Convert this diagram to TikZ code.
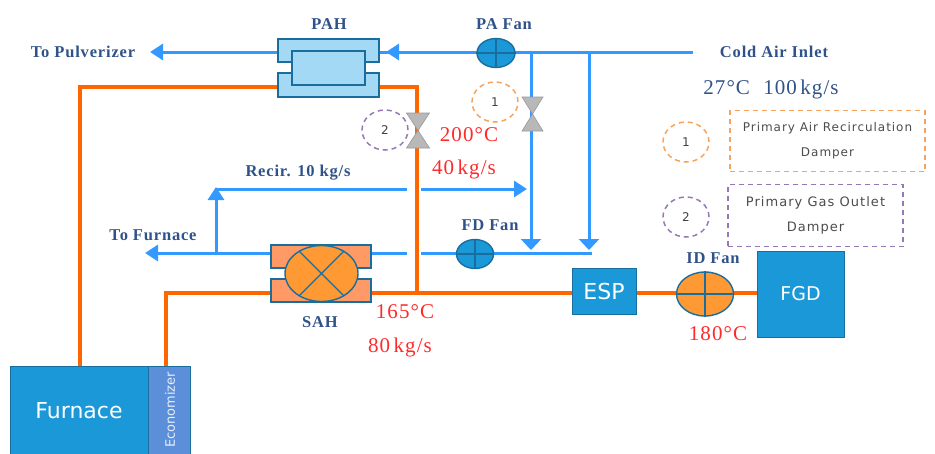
\documentclass[tikz,border=0pt]{standalone}
\usepackage{fontspec}
\setmainfont{Liberation Serif}
\newfontfamily\plainsans{DejaVu Sans}
\newfontfamily\notesans[LetterSpace=8]{DejaVu Sans}
\newfontfamily\tagserif[LetterSpace=5]{Liberation Serif}
\usetikzlibrary{arrows.meta}
\usetikzlibrary{shapes.geometric}
\definecolor{airblue}{HTML}{3399FF}
\definecolor{gasorange}{HTML}{FF6600}
\definecolor{unitblue}{HTML}{1B98D8}
\definecolor{edgeblue}{HTML}{1A6E9E}
\definecolor{ecoblue}{HTML}{5B8FD9}
\definecolor{pahfill}{HTML}{A3D9F5}
\definecolor{sahfill}{HTML}{FF9966}
\definecolor{fanorange}{HTML}{FF9933}
\definecolor{valvegray}{HTML}{B8B8B8}
\definecolor{hotred}{HTML}{FF2A2A}
\definecolor{labelnavy}{HTML}{2F5288}
\definecolor{noteorange}{HTML}{F5A45E}
\definecolor{notepurple}{HTML}{9678B6}
\tikzset{
	air/.style={draw=airblue, line width=3pt},
	airtip/.style={air, -{Triangle[length=13pt, width=16pt]}},
	droptip/.style={air, -{Triangle[length=11pt, width=20pt]}},
	gas/.style={draw=gasorange, line width=3.4pt, line join=miter},
	unitbox/.style={draw=edgeblue, line width=1pt, fill=unitblue, text=white, inner sep=0pt, font=\plainsans},
	hxbox/.style={draw=edgeblue, line width=1.4pt, inner sep=0pt},
	fan/.style={ellipse, draw=edgeblue, line width=1.4pt, inner sep=0pt},
	tag/.style={text=labelnavy, font=\tagserif\bfseries\fontsize{16.5}{19}\selectfont},
	hot/.style={text=hotred, font=\tagserif\fontsize{21}{23}\selectfont},
	note/.style={text=black!70, font=\notesans\fontsize{13}{25}\selectfont, align=center},
	notedash/.style={dash pattern=on 5pt off 4pt, line width=1.5pt},
	notenum/.style={notedash, inner sep=0pt, text=black!75, font=\plainsans\fontsize{12}{14}\selectfont},
	valvepart/.style={draw=black!40, fill=valvegray, line width=.6pt}
}
\begin{document}
\begin{tikzpicture}[x=1pt, y=-1pt]
	\useasboundingbox (0,0) rectangle (935,453);
	% units
	\node[unitbox, minimum width=138pt, minimum height=90pt, font=\plainsans\fontsize{22}{24}\selectfont] (furnace) at (79,411) {Furnace};
	\node[unitbox, fill=ecoblue, minimum width=42pt, minimum height=90pt] (eco) at (169,411) {};
	\node[text=white!85!ecoblue, rotate=90, font=\plainsans\fontsize{13}{15}\selectfont] (ecolabel) at (170,410) {Economizer};
	\node[unitbox, minimum width=64pt, minimum height=46pt, font=\plainsans\fontsize{22}{24}\selectfont] (esp) at (604,291) {ESP};
	\node[unitbox, minimum width=87pt, minimum height=86pt, font=\plainsans\fontsize{19}{21}\selectfont] (fgd) at (800.5,294) {FGD};
	% free ends and bends
	\coordinate (inlet) at (693,52);
	\coordinate (pahA) at (278,52);
	\coordinate (pahB) at (379,52);
	\coordinate (tipPah) at (386,52);
	\coordinate (tipPulv) at (150,52);
	\coordinate (gasPahL) at (278,87);
	\coordinate (gasPahR) at (379,87);
	\coordinate (bendA) at (80,87);
	\coordinate (bendB) at (417,87);
	\coordinate (teeGas) at (417,293);
	\coordinate (bendC) at (166,293);
	\coordinate (joinA) at (531,52);
	\coordinate (joinB) at (589,52);
	\coordinate (tipA) at (531,250);
	\coordinate (tipB) at (589,250);
	\coordinate (endFd) at (592,253);
	\coordinate (gapR) at (421,253);
	\coordinate (gapL) at (407,253);
	\coordinate (sahR) at (371,253);
	\coordinate (sahL) at (271,253);
	\coordinate (tipFurn) at (145,253);
	\coordinate (recirBase) at (216,253);
	\coordinate (recirUp) at (216,189);
	\coordinate (recirGapL) at (407,189);
	\coordinate (recirGapR) at (421,189);
	\coordinate (tipRecir) at (527,189);
	\coordinate (sahGasL) at (271,293);
	\coordinate (sahGasR) at (371,293);
	% gas side
	\draw[gas] (eco.north -| bendC) -- (bendC) -- (sahGasL);
	\draw[gas] (sahGasR) -- (esp.west |- sahGasR);
	\draw[gas] (furnace.north -| bendA) -- (bendA) -- (gasPahL);
	\draw[gas] (gasPahR) -- (bendB) -- (teeGas);
	\draw[gas] (esp.east |- sahGasR) -- (fgd.west |- sahGasR);
	% air side
	\draw[air] (inlet) -- (pahB);
	\draw[airtip] (pahB -| joinA) -- (tipPah);
	\draw[airtip] (pahA) -- (tipPulv);
	\draw[droptip] (joinA) -- (tipA);
	\draw[droptip] (joinB) -- (tipB);
	\draw[air] (endFd) -- (gapR);
	\draw[air] (gapL) -- (sahR);
	\draw[airtip] (sahL) -- (tipFurn);
	\draw[airtip] (recirBase) -- (216,187);
	\draw[air] (recirUp) ++(-1.5,0) -- (recirGapL);
	\draw[airtip] (recirGapR) -- (tipRecir);
	% heaters
	\node[hxbox, fill=pahfill, minimum width=101pt, minimum height=23pt] (pahtop) at (328.5,50.5) {};
	\node[hxbox, fill=pahfill, minimum width=101pt, minimum height=24pt] (pahbot) at (328.5,85) {};
	\node[hxbox, fill=pahfill, minimum width=73pt, minimum height=34pt] (pahcore) at (328.5,68) {};
	\node[hxbox, fill=sahfill, minimum width=100pt, minimum height=23pt] (sahtop) at (321,256.5) {};
	\node[hxbox, fill=sahfill, minimum width=100pt, minimum height=23pt] (sahbot) at (321,290.5) {};
	\node[fan, fill=fanorange, minimum width=73pt, minimum height=56pt] (sah) at (321.5,273.5) {};
	\draw[edgeblue, line width=1.4pt] (sah.45) -- (sah.225);
	\draw[edgeblue, line width=1.4pt] (sah.135) -- (sah.315);
	% fans
	\foreach \name/\cx/\cy/\wd/\ht/\col in {pafan/496/53/38/29/unitblue, fdfan/475/254/37/29/unitblue, idfan/705/294/57/44/fanorange} {
		\node[fan, fill=\col, minimum width=\wd pt, minimum height=\ht pt] (\name) at (\cx,\cy) {};
		\draw[edgeblue, line width=1.4pt] (\name.north) -- (\name.south);
		\draw[edgeblue, line width=1.4pt] (\name.west) -- (\name.east);
	}
	% dampers
	\foreach \name/\cx/\cy/\hw/\hh in {damperone/532.5/114/10.5/17, dampertwo/418/130.5/11.5/17.5} {
		\coordinate (\name) at (\cx,\cy);
		\draw[valvepart] (\name) -- ++(-\hw,-\hh) -- ++(2*\hw,0) -- cycle;
		\draw[valvepart] (\name) -- ++(-\hw,\hh) -- ++(2*\hw,0) -- cycle;
	}
	% numbered notes
	\node[notenum, draw=noteorange, ellipse, minimum width=46pt, minimum height=40pt] (numA) at (495,102) {1};
	\node[notenum, draw=notepurple, ellipse, minimum width=46pt, minimum height=40pt] (numB) at (385,130) {2};
	\node[notenum, draw=noteorange, ellipse, minimum width=46pt, minimum height=40pt] (numC) at (686,142) {1};
	\node[notenum, draw=notepurple, ellipse, minimum width=46pt, minimum height=40pt] (numD) at (686,217) {2};
	\node[note, notedash, draw=noteorange, minimum width=195pt, minimum height=61pt, inner sep=0pt, font=\notesans\fontsize{12}{25}\selectfont] (noteA) at (827.5,141) {Primary Air Recirculation\\Damper};
	\node[note, notedash, draw=notepurple, minimum width=175pt, minimum height=62pt, inner sep=0pt] (noteB) at (815.5,215.5) {Primary Gas Outlet\\Damper};
	% labels
	\node[tag] (lblPulv) at (83,52) {To Pulverizer};
	\node[tag] (lblPah) at (329,24) {PAH};
	\node[tag] (lblPa) at (504,24) {PA Fan};
	\node[tag] (lblInlet) at (774,52) {Cold Air Inlet};
	\node[hot, text=labelnavy] (lblAmb) at (771,89) {27°C\,\, 100\,kg/s};
	\node[tag] (lblRecir) at (298,173) {Recir. 10 kg/s};
	\node[tag] (lblFurn) at (153,235) {To Furnace};
	\node[tag] (lblFd) at (490,225) {FD Fan};
	\node[tag] (lblSah) at (320,322) {SAH};
	\node[tag] (lblId) at (713,258) {ID Fan};
	\node[hot] (tempA) at (469,135) {200°C};
	\node[hot] (flowA) at (464,169) {40\,kg/s};
	\node[hot] (tempB) at (405,312) {165°C};
	\node[hot] (flowB) at (400,347) {80\,kg/s};
	\node[hot] (tempC) at (718,334) {180°C};
\end{tikzpicture}
\end{document}
